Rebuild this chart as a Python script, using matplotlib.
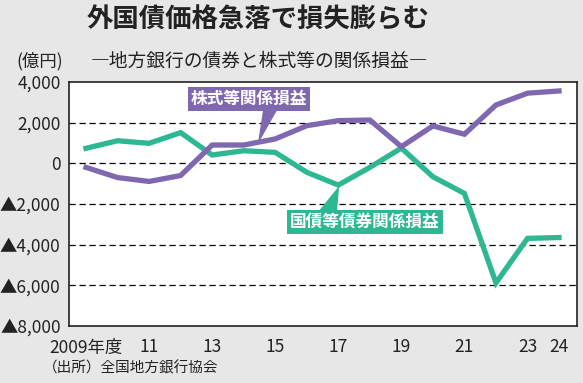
import matplotlib
matplotlib.use("Agg")
import matplotlib.pyplot as plt
from matplotlib.patches import Polygon
import numpy as np

plt.rcParams["font.family"] = ["Noto Sans CJK JP", "DejaVu Sans"]

# 年度と損益（億円）
years = np.arange(2009, 2025)
stock = [-200, -700, -890, -600, 900, 900, 1200, 1850, 2100, 2130,
         820, 1840, 1430, 2870, 3450, 3560]
bond = [740, 1110, 985, 1510, 410, 620, 540, -440, -1070, -200,
        750, -660, -1480, -5880, -3690, -3650]

yticks = [4000, 2000, 0, -2000, -4000, -6000, -8000]
ytick_labels = ["4,000", "2,000", "0", "▲2,000", "▲4,000", "▲6,000", "▲8,000"]
xticks = [2009, 2011, 2013, 2015, 2017, 2019, 2021, 2023, 2024]
xtick_labels = ["2009年度", "11", "13", "15", "17", "19", "21", "23", "24"]

purple = "#7f68b0"
green = "#2db793"
bg = "#e7e7e8"

fig = plt.figure(figsize=(5.83, 3.83), dpi=100, facecolor=bg)
ax = fig.add_axes([69 / 583, 1 - 326 / 383, 508 / 583, 244 / 383])
ax.set_facecolor("white")

ax.set_xlim(2008.46, 2024.57)
ax.set_ylim(-8000, 4000)

for y in yticks[1:-1]:
    ax.axhline(y, color="black", lw=0.9, ls=(0, (5, 3)), zorder=1)

ax.plot(years, bond, color=green, lw=3.8, solid_joinstyle="miter", zorder=3)
ax.plot(years, stock, color=purple, lw=3.8, solid_joinstyle="miter", zorder=3)

# 吹き出し
ax.add_patch(Polygon([(2014.65, 3000), (2015.2, 3000), (2014.45, 950)],
                     closed=True, color=purple, lw=0, zorder=4))
ax.text(2014.17, 3170, "株式等関係損益", color="white", fontsize=12,
        weight="bold", ha="center", va="center", zorder=5,
        bbox=dict(boxstyle="square,pad=0.18", fc=purple, ec="none"))

ax.add_patch(Polygon([(2016.3, -2500), (2016.95, -2500), (2017.03, -1100)],
                     closed=True, color=green, lw=0, zorder=4))
ax.text(2017.84, -2870, "国債等債券関係損益", color="white", fontsize=12,
        weight="bold", ha="center", va="center", zorder=5,
        bbox=dict(boxstyle="square,pad=0.18", fc=green, ec="none"))

ax.set_yticks(yticks)
ax.set_yticklabels(ytick_labels, fontsize=12.5, color="#222222")
ax.set_xticks(xticks)
ax.set_xticklabels(xtick_labels, fontsize=12.5, color="#222222")
ax.tick_params(axis="both", length=0)
ax.tick_params(axis="y", pad=6)
ax.tick_params(axis="x", pad=9)
for s in ax.spines.values():
    s.set_linewidth(1.2)
    s.set_color("#222222")

fig.text(258 / 583, 1 - 20 / 383, "外国債価格急落で損失膨らむ", fontsize=19,
         weight="bold", ha="center", va="center", color="#222222")
fig.text(259 / 583, 1 - 61 / 383, "―地方銀行の債券と株式等の関係損益―",
         fontsize=13.5, ha="center", va="center", color="#222222")
fig.text(16 / 583, 1 - 61 / 383, "(億円)", fontsize=12.5, ha="left",
         va="center", color="#222222")
fig.text(43 / 583, 1 - 368 / 383, "（出所）全国地方銀行協会", fontsize=10.5,
         ha="left", va="center", color="#222222")

fig.savefig("out.png", dpi=100, facecolor=bg)
